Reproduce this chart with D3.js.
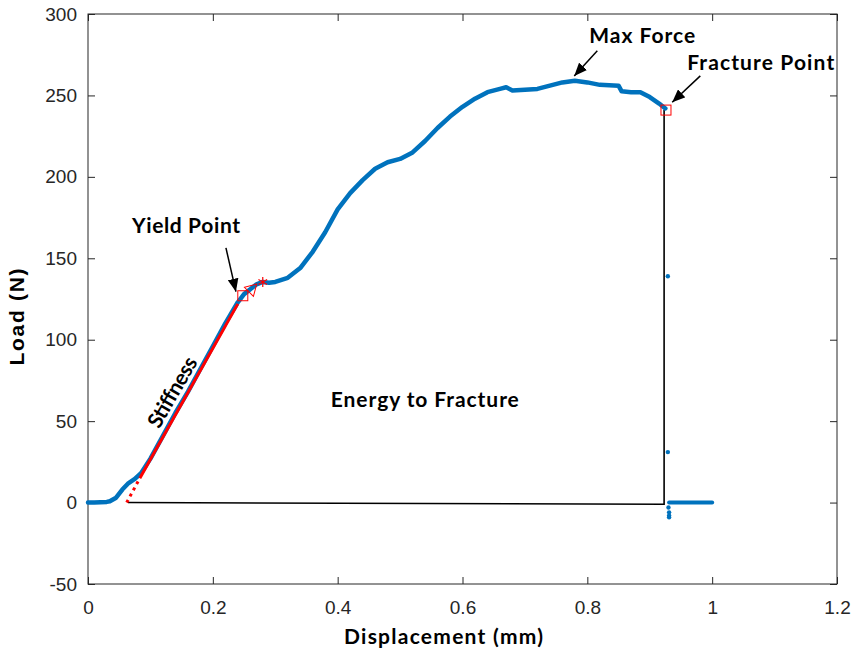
<!DOCTYPE html>
<html>
<head>
<meta charset="utf-8">
<script src="https://cdn.jsdelivr.net/npm/d3@7"></script>
<style>
    body { margin: 0; background: #fff; }
    .tick text { font-family: "Liberation Sans", Arial, sans-serif; font-size: 19px; fill: #262626; }
    .tick line { stroke: #262626; }
    .note { font-family: Lato, "Open Sans", sans-serif; font-weight: 700; font-size: 21px; fill: #000; }
</style>
</head>
<body>
<svg id="chart" width="853" height="658"></svg>
<script>

// Load-displacement curve (mm, N)
var dispX = [0, 0.01, 0.02, 0.03, 0.035, 0.045, 0.055, 0.065, 0.075, 0.085, 0.1, 0.12, 0.14, 0.16, 0.18, 0.2,
    0.22, 0.24, 0.25, 0.26, 0.27, 0.28, 0.29, 0.3, 0.32, 0.34, 0.36, 0.38, 0.4, 0.42, 0.44, 0.46, 0.48, 0.5,
    0.52, 0.54, 0.56, 0.58, 0.6, 0.62, 0.64, 0.66, 0.67, 0.68, 0.7, 0.72, 0.74, 0.76, 0.78, 0.8, 0.82, 0.85,
    0.855, 0.87, 0.885, 0.9, 0.915, 0.925];
var loadY = [0, 0, 0.2, 0.4, 0.8, 3, 8, 12, 14.5, 18, 27, 41, 55, 68, 82, 96,
    110, 123, 128, 131, 134, 135.5, 135, 135.5, 138, 144, 154, 166, 180, 190, 198, 205, 209, 211,
    215, 222, 230, 237, 243, 248, 252, 254, 255, 253, 253.5, 254, 256, 258, 259, 258, 256.5, 256,
    252.5, 252, 252, 249, 245, 242];

// Scattered points after fracture
var afterX = [0.929, 0.929, 0.930, 0.931, 0.931, 0.931];
var afterY = [139, 31, -3, -6, -8, -9];

// Flat tail after fracture
var tailX = [0.931, 1.0];
var tailY = [0, 0];

// Stiffness fit (dotted extension + solid)
var stiffDotX = [0.062, 0.083];
var stiffDotY = [0, 15];
var stiffX = [0.083, 0.240];
var stiffY = [15, 122];

// Energy to fracture outline
var energyX = [0.064, 0.923, 0.923];
var energyY = [0, -1, 241];

// Markers
var yieldPt = [0.248, 127];
var trianglePt = [0.262, 131];
var starPt = [0.28, 135.5];
var fracturePt = [0.926, 241];

// Axis ticks
var xTicks = [0, 0.2, 0.4, 0.6, 0.8, 1, 1.2];
var yTicks = [-50, 0, 50, 100, 150, 200, 250, 300];

// Annotations (data coordinates)
var noteText = ["Max Force", "Fracture Point", "Yield Point", "Energy to Fracture"];
var noteX = [0.803, 0.960, 0.0705, 0.389];
var noteY = [282.3, 265.4, 165.6, 58.7];
var noteLen = [106, 147, 108, 188];

var arrowFrom = [[0.816, 277.4], [0.981, 262], [0.221, 156.4]];
var arrowTo = [[0.779, 262], [0.936, 245.8], [0.237, 129.5]];


/*****************************/
// Set up chart
/*****************************/

var svg = d3.select('#chart');

var margin = {top: 14, right: 16, bottom: 74, left: 88};
var width = 853 - margin.left - margin.right;
var height = 658 - margin.top - margin.bottom;

var x = d3.scaleLinear().domain([0, 1.2]).range([margin.left, margin.left + width]);
var y = d3.scaleLinear().domain([-50, 300]).range([margin.top + height, margin.top]);

var blue = '#0072BD';
var red = '#FF0000';

// Axes with inward ticks (box on)
var fmt = function(d) { return String(+d.toFixed(1)); };

svg.append('g')
    .attr('transform', 'translate(0,' + (margin.top + height) + ')')
    .call(d3.axisBottom(x).tickValues(xTicks).tickSizeInner(-7).tickSizeOuter(0).tickPadding(17).tickFormat(fmt))
    .call(function(g) { g.select('.domain').remove(); });

svg.append('g')
    .attr('transform', 'translate(0,' + margin.top + ')')
    .call(d3.axisTop(x).tickValues(xTicks).tickSizeInner(-7).tickSizeOuter(0).tickFormat(''))
    .call(function(g) { g.select('.domain').remove(); });

svg.append('g')
    .attr('transform', 'translate(' + margin.left + ',0)')
    .call(d3.axisLeft(y).tickValues(yTicks).tickSizeInner(-7).tickSizeOuter(0).tickPadding(11).tickFormat(function(d) { return String(d); }))
    .call(function(g) { g.select('.domain').remove(); });

svg.append('g')
    .attr('transform', 'translate(' + (margin.left + width) + ',0)')
    .call(d3.axisRight(y).tickValues(yTicks).tickSizeInner(-7).tickSizeOuter(0).tickFormat(''))
    .call(function(g) { g.select('.domain').remove(); });

svg.append('rect')
    .attr('x', margin.left)
    .attr('y', margin.top)
    .attr('width', width)
    .attr('height', height)
    .attr('fill', 'none')
    .attr('stroke', '#262626')
    .attr('stroke-width', 1);

// Axis labels
svg.append('text')
    .attr('class', 'note')
    .attr('x', 344)
    .attr('y', 644)
    .attr('textLength', 199)
    .text('Displacement (mm)');

svg.append('text')
    .attr('transform', 'translate(24,317) rotate(-90)')
    .attr('text-anchor', 'middle')
    .attr('textLength', 97)
    .style('font-family', '"Liberation Sans", Arial, sans-serif')
    .style('font-weight', 'bold')
    .style('font-size', '21px')
    .text('Load (N)');


/*****************************/
// Draw data
/*****************************/

var line = d3.line()
    .x(function(d) { return x(d[0]); })
    .y(function(d) { return y(d[1]); });

var zip = function(a, b) { return a.map(function(v, i) { return [v, b[i]]; }); };

// Energy outline
svg.append('path')
    .datum(zip(energyX, energyY))
    .attr('d', line)
    .attr('fill', 'none')
    .attr('stroke', '#000')
    .attr('stroke-width', 1.6);

// Main curve
svg.append('path')
    .datum(zip(dispX, loadY))
    .attr('d', line)
    .attr('fill', 'none')
    .attr('stroke', blue)
    .attr('stroke-width', 4.5)
    .attr('stroke-linecap', 'round')
    .attr('stroke-linejoin', 'round');

svg.append('path')
    .datum(zip(tailX, tailY))
    .attr('d', line)
    .attr('fill', 'none')
    .attr('stroke', blue)
    .attr('stroke-width', 4)
    .attr('stroke-linecap', 'round');

svg.selectAll('.after')
    .data(zip(afterX, afterY))
    .enter().append('circle')
    .attr('class', 'after')
    .attr('cx', function(d) { return x(d[0]); })
    .attr('cy', function(d) { return y(d[1]); })
    .attr('r', 2.2)
    .attr('fill', blue);

// Stiffness fit
svg.append('path')
    .datum(zip(stiffDotX, stiffDotY))
    .attr('d', line)
    .attr('fill', 'none')
    .attr('stroke', red)
    .attr('stroke-width', 3)
    .attr('stroke-dasharray', '3,4');

svg.append('path')
    .datum(zip(stiffX, stiffY))
    .attr('d', line)
    .attr('fill', 'none')
    .attr('stroke', red)
    .attr('stroke-width', 3);

// Markers
var sq = 10;
[yieldPt, fracturePt].forEach(function(p) {
    svg.append('rect')
        .attr('x', x(p[0]) - sq / 2)
        .attr('y', y(p[1]) - sq / 2)
        .attr('width', sq)
        .attr('height', sq)
        .attr('fill', 'none')
        .attr('stroke', red)
        .attr('stroke-width', 1);
});

svg.append('path')
    .attr('d', d3.symbol().type(d3.symbolTriangle).size(70)())
    .attr('transform', 'translate(' + x(trianglePt[0]) + ',' + y(trianglePt[1]) + ') rotate(165)')
    .attr('fill', 'none')
    .attr('stroke', red)
    .attr('stroke-width', 1);

svg.append('path')
    .attr('d', d3.symbol().type(d3.symbolAsterisk).size(70)())
    .attr('transform', 'translate(' + x(starPt[0]) + ',' + y(starPt[1]) + ')')
    .attr('fill', 'none')
    .attr('stroke', red)
    .attr('stroke-width', 1.2);


/*****************************/
// Annotations
/*****************************/

svg.append('defs').append('marker')
    .attr('id', 'head')
    .attr('markerUnits', 'userSpaceOnUse')
    .attr('viewBox', '0 0 12 10')
    .attr('refX', 12)
    .attr('refY', 5)
    .attr('markerWidth', 13)
    .attr('markerHeight', 11)
    .attr('orient', 'auto')
    .append('path')
    .attr('d', 'M0,0 L12,5 L0,10 Z')
    .attr('fill', '#000');

arrowFrom.forEach(function(p, i) {
    svg.append('line')
        .attr('x1', x(p[0]))
        .attr('y1', y(p[1]))
        .attr('x2', x(arrowTo[i][0]))
        .attr('y2', y(arrowTo[i][1]))
        .attr('stroke', '#000')
        .attr('stroke-width', 1.5)
        .attr('marker-end', 'url(#head)');
});

noteText.forEach(function(t, i) {
    svg.append('text')
        .attr('class', 'note')
        .attr('x', x(noteX[i]))
        .attr('y', y(noteY[i]))
        .attr('textLength', noteLen[i])
        .text(t);
});

// Stiffness label along the fit line
svg.append('text')
    .attr('class', 'note')
    .attr('transform', 'translate(' + x(0.135) + ',' + y(67.9) + ') rotate(-60)')
    .attr('text-anchor', 'middle')
    .attr('dy', '0.35em')
    .attr('textLength', 78)
    .text('Stiffness');

</script>
</body>
</html>
